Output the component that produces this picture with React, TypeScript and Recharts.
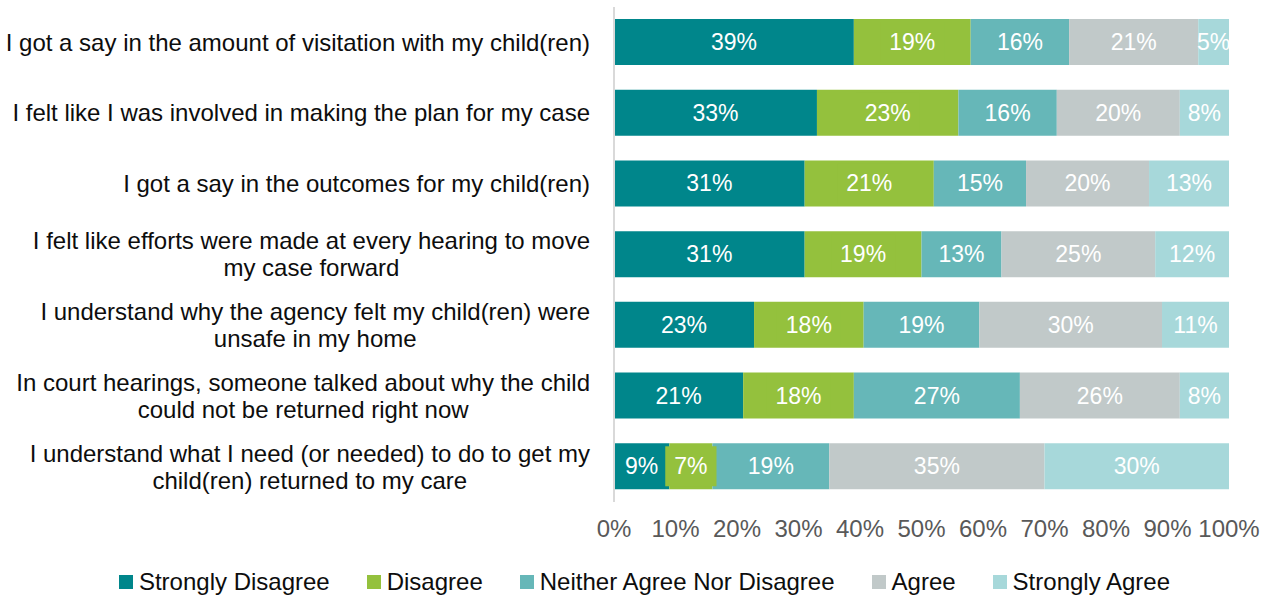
import { BarChart, Bar, XAxis, YAxis, Legend, LabelList } from 'recharts';

// categories (already split into the lines shown on the axis)
const QUESTIONS: string[][] = [
  ['I got a say in the amount of visitation with my child(ren)'],
  ['I felt like I was involved in making the plan for my case'],
  ['I got a say in the outcomes for my child(ren)'],
  ['I felt like efforts were made at every hearing to move', 'my case forward'],
  ['I understand why the agency felt my child(ren) were', 'unsafe in my home'],
  ['In court hearings, someone talked about why the child', 'could not be returned right now'],
  ['I understand what I need (or needed) to do to get my', 'child(ren) returned to my care'],
];

const STRONGLY_DISAGREE = [39, 33, 31, 31, 23, 21, 9];
const DISAGREE = [19, 23, 21, 19, 18, 18, 7];
const NEITHER = [16, 16, 15, 13, 19, 27, 19];
const AGREE = [21, 20, 20, 25, 30, 26, 35];
const STRONGLY_AGREE = [5, 8, 13, 12, 11, 8, 30];

const X_TICKS = [0, 0.1, 0.2, 0.3, 0.4, 0.5, 0.6, 0.7, 0.8, 0.9, 1];

// labelBox: the disagree labels carry a filled box in the original
const SERIES = [
  { key: 'sd', name: 'Strongly Disagree', color: '#00868B', values: STRONGLY_DISAGREE, labelBox: false },
  { key: 'd', name: 'Disagree', color: '#94C13D', values: DISAGREE, labelBox: true },
  { key: 'n', name: 'Neither Agree Nor Disagree', color: '#66B7B8', values: NEITHER, labelBox: false },
  { key: 'a', name: 'Agree', color: '#C1C9C9', values: AGREE, labelBox: false },
  { key: 'sa', name: 'Strongly Agree', color: '#A7D8DA', values: STRONGLY_AGREE, labelBox: false },
];

const FONT = '"Liberation Sans", Arial, sans-serif';
const FS = 24;
const LABEL_FS = 23;

const data = QUESTIONS.map((lines, i) => {
  const row: Record<string, any> = { q: lines.join(' '), lines };
  SERIES.forEach((s) => { row[s.key] = s.values[i]; });
  return row;
});

let ctx: CanvasRenderingContext2D | null = null;
function textWidth(t: string, size = FS) {
  if (!ctx) ctx = document.createElement('canvas').getContext('2d');
  if (!ctx) return t.length * size * 0.5;
  ctx.font = `${size}px ${FONT}`;
  return ctx.measureText(t).width;
}

function QuestionTick({ x, y, index }: any) {
  const lines = QUESTIONS[index] || [];
  const right = x - 22;
  const w = Math.max(...lines.map((l) => textWidth(l)));
  const cx = right - w / 2;
  const top = y - ((lines.length - 1) * 27) / 2;
  return (
    <g>
      {lines.map((l, i) => (
        <text key={i} x={cx} y={top + i * 27} dy="0.35em" textAnchor="middle" fontSize={FS} fill="#0d0d0d" fontFamily={FONT}>{l}</text>
      ))}
    </g>
  );
}

function makeLabel(color: string, box: boolean) {
  return function SegLabel({ x, y, width, height, value }: any) {
    const cx = x + width / 2;
    const cy = y + height / 2;
    const txt = `${value}%`;
    const tw = textWidth(txt, LABEL_FS);
    return (
      <g>
        {box && <rect x={cx - tw / 2 - 9} y={cy - 20} width={tw + 18} height={40} fill={color} />}
        <text x={cx} y={cy} dy="0.35em" textAnchor="middle" fill="#fff" fontSize={LABEL_FS} fontFamily={FONT}>{txt}</text>
      </g>
    );
  };
}

function LegendRow() {
  return (
    <div style={{ display: 'flex', justifyContent: 'center', gap: 37, fontFamily: FONT, fontSize: FS, lineHeight: '28px', color: '#0d0d0d', paddingLeft: 60 }}>
      {SERIES.map((s) => (
        <div key={s.key} style={{ display: 'flex', alignItems: 'center' }}>
          <span style={{ width: 14, height: 14, background: s.color, display: 'inline-block', marginRight: 6 }} />
          <span>{s.name}</span>
        </div>
      ))}
    </div>
  );
}

export default function App() {
  return (
    <div style={{ position: 'absolute', left: 0, top: 0, background: '#fff' }}>
      <BarChart width={1267} height={596} data={data} layout="vertical" stackOffset="expand" barSize={46}
        margin={{ top: 7, right: 38, bottom: 4, left: 0 }}>
        <XAxis type="number" domain={[0, 1]} ticks={X_TICKS} tickFormatter={(v) => `${Math.round(v * 100)}%`}
          axisLine={false} tickLine={false} tickSize={0} tick={{ fontSize: FS, fill: '#595959', fontFamily: FONT }} tickMargin={18} height={62} />
        <YAxis type="category" dataKey="q" width={614} axisLine={{ stroke: '#D9D9D9', strokeWidth: 2 }} tickLine={false}
          tickSize={0} tick={<QuestionTick />} interval={0} />
        <Legend verticalAlign="bottom" content={<LegendRow />} wrapperStyle={{ bottom: 0 }} />
        {SERIES.map((s) => (
          <Bar key={s.key} dataKey={s.key} name={s.name} stackId="a" fill={s.color} isAnimationActive={false}>
            <LabelList dataKey={s.key} content={makeLabel(s.color, s.labelBox)} />
          </Bar>
        ))}
      </BarChart>
    </div>
  );
}
